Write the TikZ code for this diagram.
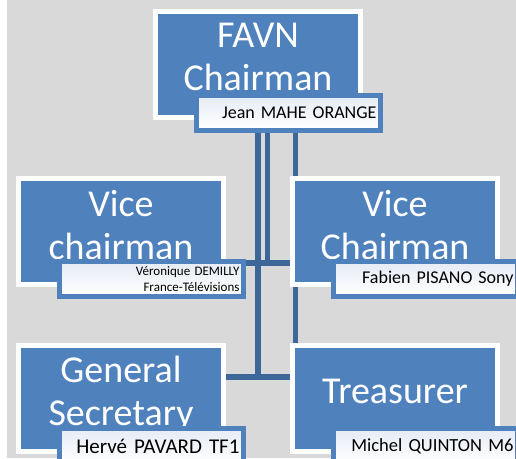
\documentclass[tikz,border=0pt]{standalone}
\usepackage{fontspec}
\setmainfont{Carlito}
\definecolor{favblue}{HTML}{4F81BD}
\definecolor{wireblue}{HTML}{3D6699}
\definecolor{panel}{HTML}{D9D9D9}
\definecolor{lbltop}{HTML}{E5EBF5}
\pgfdeclarelayer{back}
\pgfdeclarelayer{wires}
\pgfsetlayers{back,wires,main}
\tikzset{
  favbox/.style={draw=white, line width=5pt, fill=favblue, minimum width=205pt, minimum height=106pt, inner sep=0pt},
  favtitle/.style={text=white, align=center, inner sep=0pt, text depth=0pt, font=\fontsize{38}{43}\selectfont},
  namelbl/.style={draw=favblue, line width=5pt, top color=lbltop, bottom color=white, minimum width=184pt, minimum height=35pt, inner xsep=4pt, inner ysep=0pt, text width=176pt, align=right, anchor=north east},
  wire/.style={draw=wireblue, line width=5.5pt}
}
\begin{document}
\begin{tikzpicture}[x=1pt, y=-1pt]
\clip (0,0) rectangle (516,458);
\begin{pgfonlayer}{back}
\fill[white] (0,0) rectangle (516,458);
\fill[panel] (7,0) rectangle (516,458);
\end{pgfonlayer}
\node[favbox] (chair) at (258,64) {};
\node[favbox] (vicel) at (121,231.5) {};
\node[favbox] (vicer) at (395,231.5) {};
\node[favbox] (gensec) at (121,398.5) {};
\node[favbox] (treas) at (395,398.5) {};
\node[favtitle] (chairtxt) at ([yshift=7pt]chair) {FAVN\\Chairman};
\node[favtitle] (viceltxt) at ([yshift=7pt]vicel) {Vice\\chairman};
\node[favtitle] (vicertxt) at ([yshift=7pt]vicer) {Vice\\Chairman};
\node[favtitle] (gensectxt) at ([yshift=8pt]gensec) {General\\Secretary};
\node[favtitle] (treastxt) at ([yshift=7pt]treas) {Treasurer};
\node[namelbl, font=\fontsize{18}{21}\selectfont] (chairlbl) at ([shift={(20pt,27pt)}]chair.south east) {Jean MAHE ORANGE};
\node[namelbl, font=\fontsize{13}{15.5}\selectfont] (vicellbl) at ([shift={(20pt,28pt)}]vicel.south east) {Véronique DEMILLY\\France-Télévisions};
\node[namelbl, font=\fontsize{18}{21}\selectfont] (vicerlbl) at ([shift={(20pt,28pt)}]vicer.south east) {Fabien PISANO Sony};
\node[namelbl, font=\fontsize{21}{24}\selectfont] (genseclbl) at ([shift={(20pt,28pt)}]gensec.south east) {Hervé PAVARD TF1};
\node[namelbl, font=\fontsize{18.5}{21}\selectfont] (treaslbl) at ([shift={(20pt,28pt)}]treas.south east) {Michel QUINTON M6};
\begin{pgfonlayer}{wires}
\coordinate (jointop) at (267.5,263);
\coordinate (joinbot) at (258,377);
\coordinate (tapb) at ([xshift=9.5pt]chair.center);
\coordinate (tapc) at ([xshift=37.5pt]chair.center);
\draw[wire] (chair) -- (joinbot);
\draw[wire] (gensec.east |- joinbot) -- (treas.west |- joinbot);
\draw[wire] (tapb) -- (jointop);
\draw[wire] (vicel.east |- jointop) -- (vicer.west |- jointop);
\draw[wire] (tapc) -- (tapc |- treas.north);
\end{pgfonlayer}
\end{tikzpicture}
\end{document}
